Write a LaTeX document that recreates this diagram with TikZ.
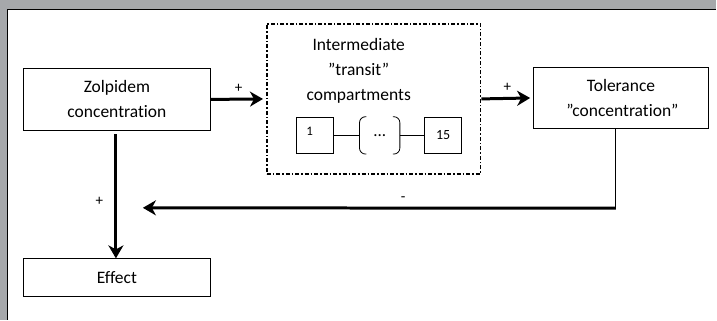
\documentclass[tikz,border=0pt]{standalone}
\usepackage{fontspec}
\setsansfont{Carlito}[Ligatures=NoCommon]
\usetikzlibrary{arrows.meta,calc}
\tikzset{every picture/.style={/utils/exec={\sffamily}}}
\tikzset{block/.style={draw,line width=0.8pt,align=center,font=\fontsize{17.5}{25}\selectfont}}
\tikzset{cell/.style={draw,line width=0.8pt,minimum width=37pt,minimum height=37pt,font=\fontsize{14}{14}\selectfont}}
\tikzset{flow/.style={-{Stealth[length=13pt,width=15pt,inset=4pt]},line width=3pt,shorten >=3pt}}
\tikzset{sign/.style={font=\fontsize{15}{15}\selectfont}}
\definecolor{frame}{RGB}{166,168,171}

\begin{document}
\begin{tikzpicture}[x=1pt,y=-1pt]
    \fill [frame] (0,0) rectangle (717,320);
    \fill [white] (8,10) rectangle (717,320);
    \draw [line width=1.2pt] (7.5,320) -- (7.5,9.5) -- (717,9.5);
    \useasboundingbox (0,0) rectangle (717,320);
    % blocks
    \node [block,minimum width=188pt,minimum height=63pt] (zol) at (117,99.5) {Zolpidem\\concentration};
    \node [block,minimum width=175pt,minimum height=62pt] (tol) at (621.5,98) {Tolerance\\\,''concentration''\hspace{10pt}};
    \node [block,minimum width=188pt,minimum height=38pt] (eff) at (117,278) {Effect};
    \node [draw,dash pattern=on 4pt off 2pt on 1.5pt off 2pt,line width=1.6pt,minimum width=214pt,minimum height=150pt] (trans) at (374,99) {};
    \node [align=center,font=\fontsize{17.5}{25}\selectfont] (title) at (359,71) {Intermediate\\''transit''\\compartments};
    % transit compartments
    \node [cell] (c1) at (315.5,135.5) {};
    \node [font=\fontsize{13}{13}\selectfont] at (310,131) {1};
    \node [cell] (c15) at (443.5,135.5) {15};
    \node [minimum width=40pt,minimum height=37pt,font=\fontsize{17}{17}\selectfont] (dots) at (380,135.5) {...};
    \draw [line width=0.8pt,rounded corners=6pt] ($(dots.north west)+(7,0)$) -- (dots.north west) -- (dots.south west) -- ++(7,0);
    \draw [line width=0.8pt,rounded corners=6pt] ($(dots.north east)+(-7,0)$) -- (dots.north east) -- (dots.south east) -- ++(-7,0);
    \draw [line width=0.8pt] (c1) -- (dots.west);
    \draw [line width=0.8pt] (dots.east) -- (c15);
    % connectors
    \draw [flow] (zol.east) -- (trans.west) node [midway,above=2pt,sign] {+};
    \draw [flow] (trans.east) -- (tol.west) node [midway,above=2pt,sign] {+};
    \draw [flow,shorten <=3pt,shorten >=0pt] ($(zol.south)+(-1,0)$) -- ($(eff.north)+(-1,0)$) node [pos=0.55,left=8pt,sign] {+};
    \draw [line width=1pt] ($(tol.south)+(-5.5,0)$) -- ++(0,79) coordinate (fb);
    \coordinate (fbend) at (143,208);
    \draw [flow,shorten >=0pt] ($(fb)+(0.5,0)$) -- (fbend) node [pos=0.45,above=2pt,sign] {-};
\end{tikzpicture}
\end{document}
